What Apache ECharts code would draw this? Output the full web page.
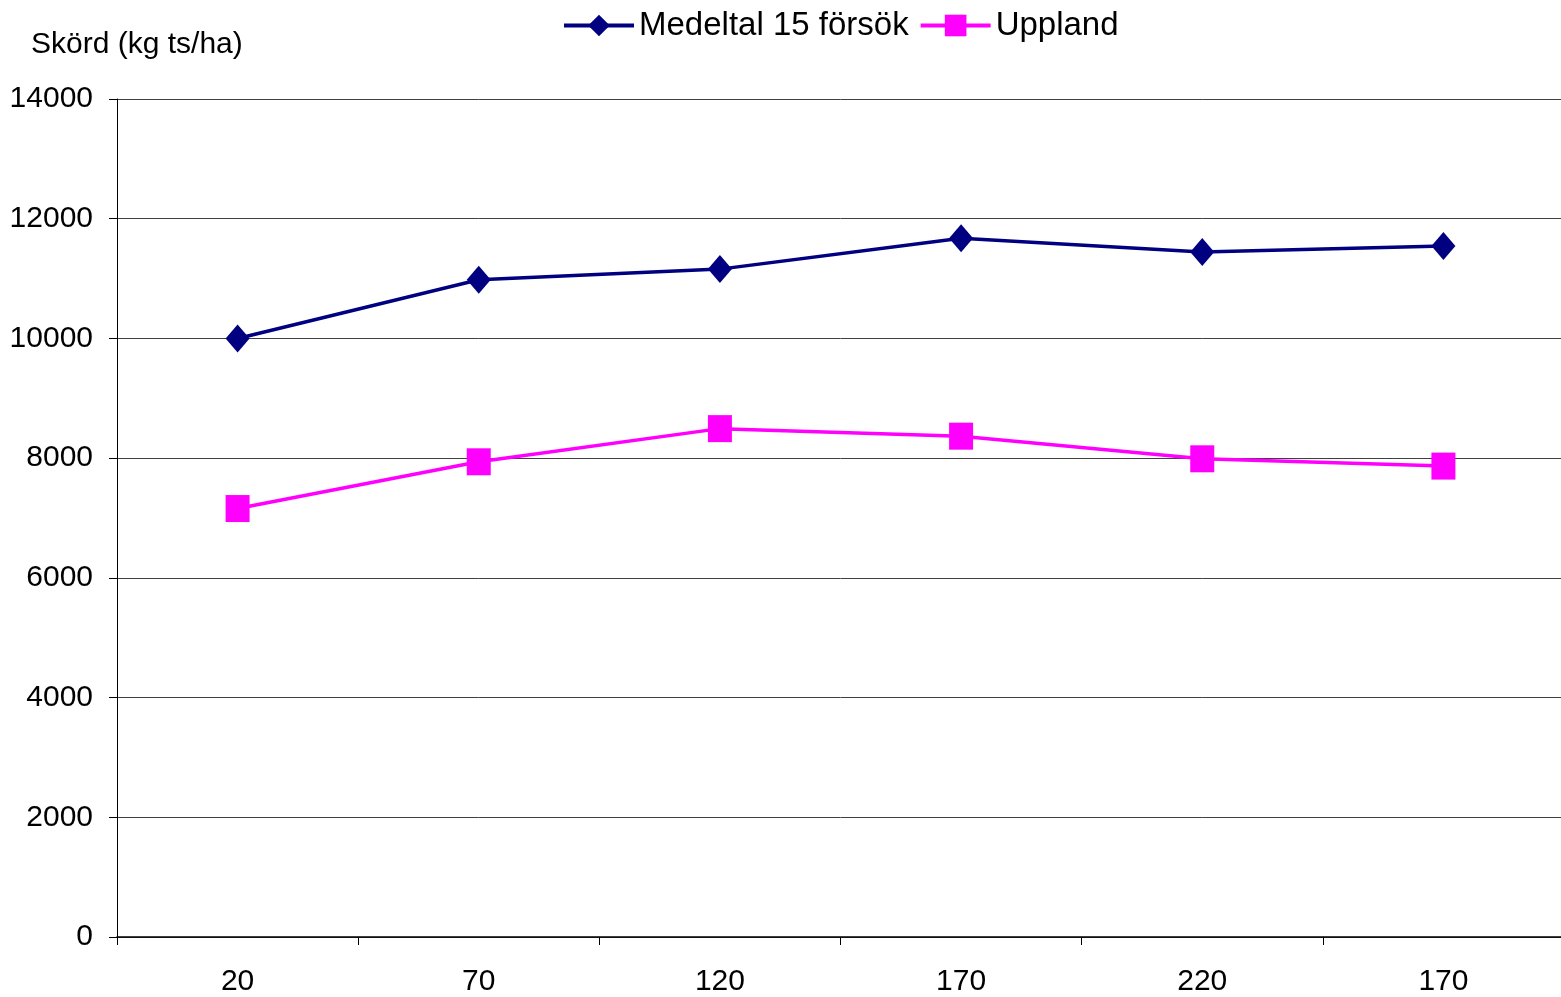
<!DOCTYPE html>
<html>
<head>
<meta charset="utf-8">
<script src="https://cdn.jsdelivr.net/npm/echarts@6/dist/echarts.min.js"></script>
<style>
  html, body { margin: 0; padding: 0; background: #fff; overflow: hidden; }
  #chart { width: 1564px; height: 997px; }
</style>
</head>
<body>
<div id="chart"></div>
<script>
// Kvävegiva (kg N/ha) per led
const categories = ['20', '70', '120', '170', '220', '170'];
// Skörd, kg ts/ha
const medeltal = [10000, 10980, 11158, 11672, 11444, 11544];
const uppland = [7158, 7939, 8493, 8367, 7989, 7867];
const seriesNames = ['Medeltal 15 försök', 'Uppland'];
const yTicks = { min: 0, max: 14000, interval: 2000 };

const FONT = '"Liberation Sans", Arial, sans-serif';

const chart = echarts.init(document.getElementById('chart'), null, { renderer: 'canvas' });

chart.setOption({
  animation: false,
  backgroundColor: '#ffffff',
  title: {
    text: 'Skörd (kg ts/ha)',
    left: 31,
    top: 30,
    padding: 0,
    textStyle: { fontFamily: FONT, fontSize: 30, fontWeight: 'normal', color: '#000' }
  },
  legend: {
    top: 9,
    left: 562,
    padding: 0,
    itemWidth: 70,
    itemHeight: 27,
    itemGap: 10,
    lineStyle: { width: 4 },
    textStyle: { fontFamily: FONT, fontSize: 33, color: '#000' },
    data: seriesNames
  },
  grid: {
    left: 117,
    top: 99,
    right: 0,
    bottom: 59,
    containLabel: false
  },
  xAxis: {
    type: 'category',
    data: categories,
    boundaryGap: true,
    axisLine: { show: true, lineStyle: { color: '#000', width: 1.5 } },
    axisTick: { show: true, length: 8, interval: 0, lineStyle: { color: '#000', width: 1 } },
    axisLabel: { interval: 0, margin: 30, fontFamily: FONT, fontSize: 30, color: '#000' },
    splitLine: { show: false }
  },
  yAxis: {
    type: 'value',
    min: yTicks.min,
    max: yTicks.max,
    interval: yTicks.interval,
    axisLine: { show: true, lineStyle: { color: '#000', width: 1 } },
    axisTick: { show: true, length: 8, lineStyle: { color: '#000', width: 1 } },
    axisLabel: {
      margin: 24,
      fontFamily: FONT,
      fontSize: 30,
      color: '#000',
      formatter: (v) => String(v)
    },
    splitLine: { show: true, lineStyle: { color: '#404040', width: 1 } }
  },
  series: [
    {
      name: seriesNames[0],
      type: 'line',
      data: medeltal,
      symbol: 'diamond',
      symbolSize: [24, 28],
      showAllSymbol: true,
      lineStyle: { color: '#000080', width: 3.5 },
      itemStyle: { color: '#000080' },
      z: 3
    },
    {
      name: seriesNames[1],
      type: 'line',
      data: uppland,
      symbol: 'rect',
      symbolSize: [24, 27],
      showAllSymbol: true,
      lineStyle: { color: '#ff00ff', width: 3.5 },
      itemStyle: { color: '#ff00ff' },
      z: 2
    }
  ]
});
</script>
</body>
</html>
